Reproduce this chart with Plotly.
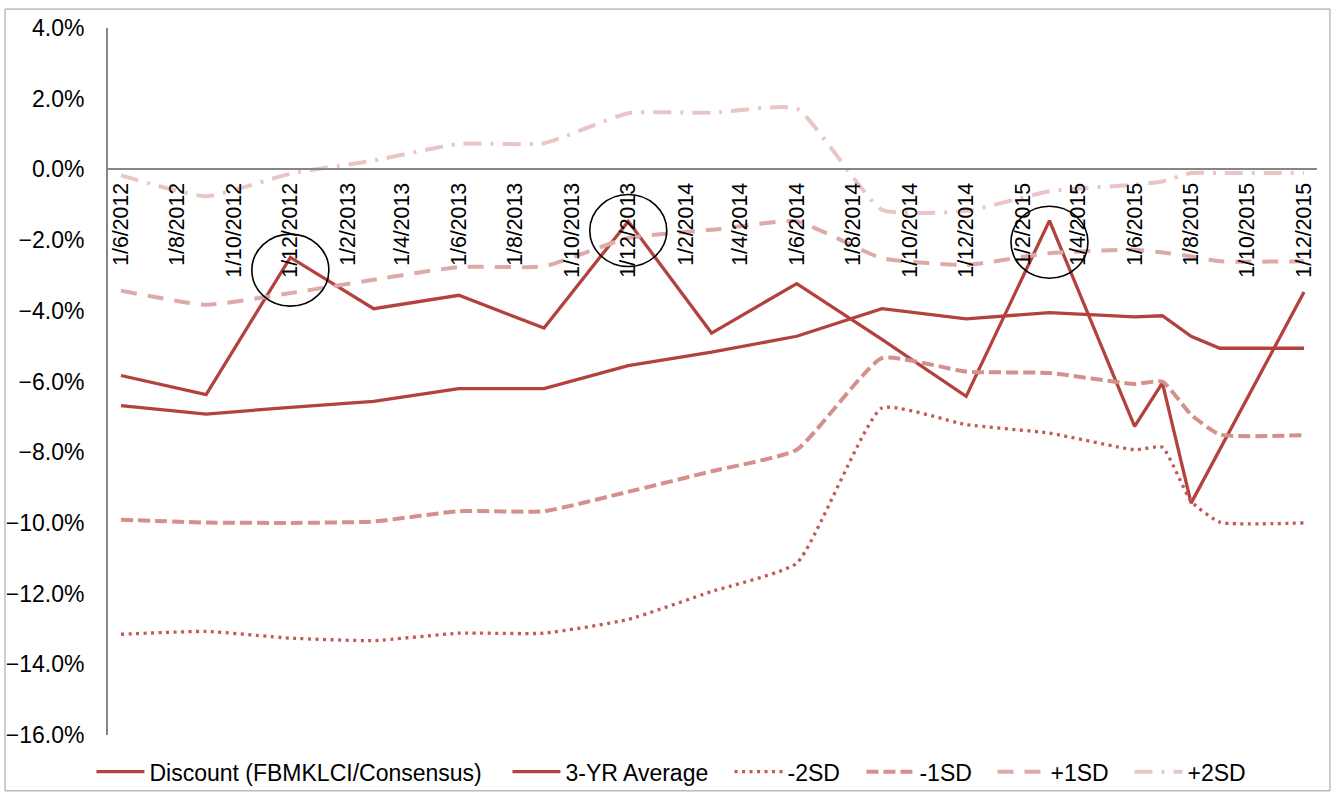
import plotly.graph_objects as go

# Observation dates: quarterly through mid-2015, then monthly
dates = ["2012-06-01", "2012-09-01", "2012-12-01", "2013-03-01", "2013-06-01",
         "2013-09-01", "2013-12-01", "2014-03-01", "2014-06-01", "2014-09-01",
         "2014-12-01", "2015-03-01", "2015-06-01", "2015-07-01", "2015-08-01",
         "2015-09-01", "2015-12-01"]

# Values in percent
discount = [-5.83, -6.37, -2.49, -3.94, -3.56, -4.49, -1.47, -4.63, -3.23, -4.81,
            -6.42, -1.45, -7.27, -6.04, -9.44, None, -3.47]
avg_3yr = [-6.68, -6.92, -6.73, -6.56, -6.20, -6.20, -5.55, -5.17, -4.72, -3.94,
           -4.23, -4.05, -4.17, -4.14, -4.72, -5.06, -5.06]
minus_2sd = [-13.15, -13.07, -13.26, -13.33, -13.12, -13.12, -12.73, -11.94, -11.14, -6.75,
             -7.22, -7.46, -7.93, -7.86, -9.39, -9.98, -10.00]
minus_1sd = [-9.91, -9.99, -10.00, -9.96, -9.67, -9.67, -9.12, -8.54, -7.93, -5.34,
             -5.72, -5.76, -6.07, -6.00, -6.94, -7.50, -7.52]
plus_1sd = [-3.43, -3.83, -3.50, -3.12, -2.76, -2.74, -1.94, -1.71, -1.47, -2.51,
            -2.70, -2.37, -2.27, -2.35, -2.46, -2.60, -2.60]
plus_2sd = [-0.17, -0.76, -0.12, 0.25, 0.72, 0.74, 1.59, 1.60, 1.72, -1.14,
            -1.18, -0.62, -0.43, -0.34, -0.10, -0.10, -0.10]

# Peaks that are ringed: (date, centre of ring in %)
highlights = [("2012-12-01", -2.85), ("2013-12-01", -1.73), ("2015-03-01", -2.06)]

y_min, y_max = -16, 4

RED = "#B3423E"
SMOOTH = 0.45

series = [
    ("Discount (FBMKLCI/Consensus)", discount, dict(color=RED, width=3.3)),
    ("3-YR Average", avg_3yr, dict(color=RED, width=3.3)),
    ("-2SD", minus_2sd, dict(color="#C45854", width=3.3, dash="3px,4.5px",
                             shape="spline", smoothing=SMOOTH)),
    ("-1SD", minus_1sd, dict(color="#D4908D", width=4, dash="12px,5px",
                             shape="spline", smoothing=SMOOTH)),
    ("+1SD", plus_1sd, dict(color="#DEAAA8", width=4, dash="16px,11px",
                            shape="spline", smoothing=SMOOTH)),
    ("+2SD", plus_2sd, dict(color="#E9C6C5", width=4, dash="18px,9px,3px,9px",
                            shape="spline", smoothing=SMOOTH)),
]

# left edge of each legend entry, in paper units
legend_x = [-0.0137, 0.3304, 0.5141, 0.6232, 0.7316, 0.8449]

fig = go.Figure()
legend_layout = {}
for i, (name, vals, line) in enumerate(series):
    key = "legend" if i == 0 else f"legend{i + 1}"
    fig.add_trace(go.Scatter(x=dates, y=vals, name=name, mode="lines",
                             connectgaps=True, line=line, legend=key))
    legend_layout[key] = dict(orientation="h", x=legend_x[i], xanchor="left",
                              y=-0.052, yanchor="middle",
                              font=dict(size=23), itemwidth=48,
                              bgcolor="rgba(0,0,0,0)")

for d, yc in highlights:
    fig.add_shape(type="circle", xref="x", yref="y",
                  xsizemode="pixel", ysizemode="pixel",
                  xanchor=d, yanchor=yc,
                  x0=-38.5, x1=38.5, y0=-36, y1=36,
                  line=dict(color="black", width=1.6))

# outer chart frame
fig.add_shape(type="rect", xref="paper", yref="paper",
              x0=-0.0852, x1=1.0107, y0=-0.079, y1=1.0268,
              line=dict(color="#9A9A9A", width=1))

zero_pos = (0 - y_min) / (y_max - y_min)

fig.update_layout(
    width=1335, height=794,
    margin=dict(l=108, r=18, t=28, b=59, autoexpand=False),
    paper_bgcolor="white", plot_bgcolor="white",
    font=dict(family="Liberation Sans, Arial, Helvetica, sans-serif", color="black"),
    showlegend=True,
    xaxis=dict(type="date", range=["2012-05-18", "2015-12-15"],
               anchor="free", position=zero_pos,
               tick0="2012-06-01", dtick="M2", tickformat="%-d/%-m/%Y",
               tickangle=-90, tickfont=dict(size=21.3), ticks="",
               ticklabelstandoff=4,
               showline=True, linecolor="#868686", linewidth=2,
               showgrid=False, zeroline=False),
    yaxis=dict(range=[y_min, y_max], dtick=2, tickformat=".1f", ticksuffix="%",
               tickfont=dict(size=23), ticks="", ticklabelstandoff=17,
               showline=True, linecolor="#868686", linewidth=2,
               showgrid=False, zeroline=False),
    **legend_layout,
)

fig.write_html("out.html")
